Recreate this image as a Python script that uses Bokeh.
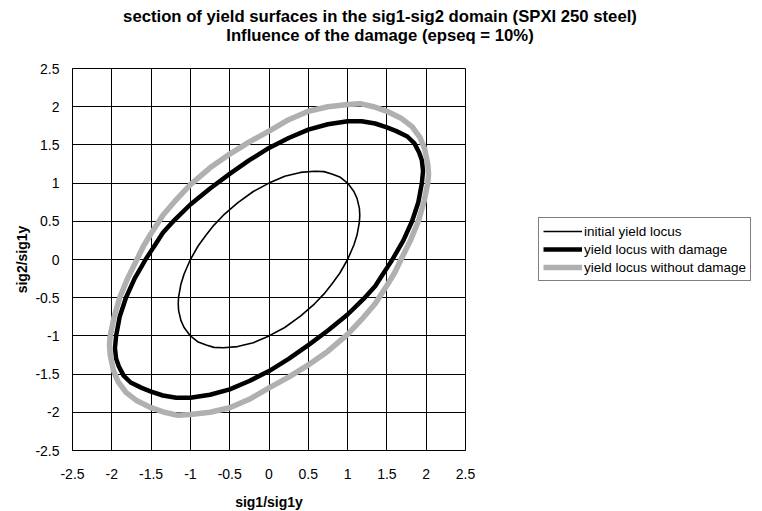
from bokeh.plotting import figure
from bokeh.models import Legend, LegendItem, FixedTicker, Div
from bokeh.layouts import column
from bokeh.embed import file_html
from bokeh.resources import INLINE

# ---------------- data ----------------
title_line1 = "section of yield surfaces in the sig1-sig2 domain (SPXI 250 steel)"
title_line2 = "Influence of the damage (epseq = 10%)"
x_axis_label = "sig1/sig1y"
y_axis_label = "sig2/sig1y"

tick_values = [-2.5, -2.0, -1.5, -1.0, -0.5, 0.0, 0.5, 1.0, 1.5, 2.0, 2.5]
tick_labels = ["-2.5", "-2", "-1.5", "-1", "-0.5", "0", "0.5", "1", "1.5", "2", "2.5"]

series_names = ["initial yield locus", "yield locus with damage", "yield locus without damage"]

initial_x = [1.00, 1.08, 1.12, 1.15, 1.155, 1.15, 1.12, 1.08, 1.00, 0.90, 0.80, 0.70, 0.58,
             0.40, 0.20, 0.00, -0.20, -0.40, -0.58, -0.70, -0.80, -0.90, -1.00, -1.08, -1.12,
             -1.15, -1.155, -1.15, -1.12, -1.08, -1.00, -0.90, -0.80, -0.70, -0.58, -0.40,
             -0.20, 0.00, 0.20, 0.40, 0.58, 0.70, 0.80, 0.90, 1.00]
initial_y = [0.00, 0.19, 0.32, 0.49, 0.58, 0.67, 0.80, 0.89, 1.00, 1.08, 1.12, 1.15, 1.155,
             1.14, 1.09, 1.00, 0.89, 0.74, 0.58, 0.45, 0.32, 0.18, 0.00, -0.19, -0.32,
             -0.49, -0.58, -0.67, -0.80, -0.89, -1.00, -1.08, -1.12, -1.15, -1.155, -1.14,
             -1.09, -1.00, -0.89, -0.74, -0.58, -0.45, -0.32, -0.18, 0.00]

damage_x = [1.57, 1.71, 1.82, 1.90, 1.945, 1.96, 1.945, 1.91, 1.85, 1.76, 1.62, 1.50, 1.35,
            1.18, 1.00, 0.75, 0.50, 0.25, 0.00, -0.25, -0.50, -0.75, -1.00, -1.20, -1.35,
            -1.45, -1.52, -1.57, -1.71, -1.82, -1.90, -1.945, -1.96, -1.945, -1.91, -1.85,
            -1.76, -1.62, -1.50, -1.35, -1.18, -1.00, -0.75, -0.50, -0.25, 0.00, 0.25, 0.50,
            0.75, 1.00, 1.20, 1.35, 1.45, 1.52, 1.57]
damage_y = [0.00, 0.25, 0.50, 0.75, 1.00, 1.16, 1.30, 1.40, 1.52, 1.61, 1.68, 1.73, 1.78,
            1.81, 1.81, 1.77, 1.70, 1.59, 1.46, 1.30, 1.12, 0.93, 0.72, 0.52, 0.35,
            0.19, 0.08, 0.00, -0.25, -0.50, -0.75, -1.00, -1.16, -1.30, -1.40, -1.52,
            -1.61, -1.68, -1.73, -1.78, -1.81, -1.81, -1.77, -1.70, -1.59, -1.46, -1.30, -1.12,
            -0.93, -0.72, -0.52, -0.35, -0.19, -0.08, 0.00]

nodamage_x = [1.68, 1.80, 1.90, 1.97, 2.02, 2.03, 2.02, 1.98, 1.92, 1.82, 1.68, 1.50, 1.33,
              1.16, 1.00, 0.75, 0.50, 0.25, 0.00, -0.25, -0.50, -0.75, -1.00, -1.20, -1.35,
              -1.50, -1.60, -1.68, -1.80, -1.90, -1.97, -2.02, -2.03, -2.02, -1.98, -1.92,
              -1.82, -1.68, -1.50, -1.33, -1.16, -1.00, -0.75, -0.50, -0.25, 0.00, 0.25, 0.50,
              0.75, 1.00, 1.20, 1.35, 1.50, 1.60, 1.68]
nodamage_y = [0.00, 0.25, 0.50, 0.75, 1.00, 1.12, 1.25, 1.45, 1.60, 1.74, 1.85, 1.94, 2.00,
              2.04, 2.03, 2.00, 1.94, 1.83, 1.68, 1.54, 1.38, 1.20, 0.98, 0.76, 0.58,
              0.34, 0.17, 0.00, -0.25, -0.50, -0.75, -1.00, -1.12, -1.25, -1.45, -1.60,
              -1.74, -1.85, -1.94, -2.00, -2.04, -2.03, -2.00, -1.94, -1.83, -1.68, -1.54, -1.38,
              -1.20, -0.98, -0.76, -0.58, -0.34, -0.17, 0.00]

# ---------------- layout ----------------
FONT = "Liberation Sans"
TITLE_H = 48

title_div = Div(
    text=('<div style="margin-top:7px;margin-left:16px;width:728px;text-align:center;'
          "font-family:'Liberation Sans',Arial,sans-serif;font-weight:bold;"
          'font-size:16.7px;line-height:19px;color:#000;white-space:nowrap;">'
          + title_line1 + "<br>" + title_line2 + "</div>"),
    width=746, height=TITLE_H, margin=0)

p = figure(frame_width=393, frame_height=382,
           x_range=(-2.5, 2.5), y_range=(-2.5, 2.5),
           output_backend="svg", toolbar_location=None,
           min_border_left=72, min_border_right=289,
           min_border_top=68 - TITLE_H, min_border_bottom=57, margin=0)
p.title.text = ""
p.background_fill_color = "white"
p.border_fill_color = "white"
p.outline_line_color = "black"
p.outline_line_width = 1

for ax in (p.xaxis[0], p.yaxis[0]):
    ax.ticker = FixedTicker(ticks=tick_values)
    ax.major_label_overrides = {v: s for v, s in zip(tick_values, tick_labels)}
    ax.major_tick_line_color = None
    ax.minor_tick_line_color = None
    ax.axis_line_color = "black"
    ax.major_label_text_font = FONT
    ax.major_label_text_font_size = "14px"
    ax.major_label_text_color = "black"
    ax.axis_label_text_font = FONT
    ax.axis_label_text_font_size = "14px"
    ax.axis_label_text_font_style = "bold"
    ax.axis_label_text_color = "black"

p.xaxis.axis_label = x_axis_label
p.yaxis.axis_label = y_axis_label
p.xaxis.major_label_standoff = 12
p.xaxis.axis_label_standoff = 12
p.yaxis.major_label_standoff = 7
p.yaxis.axis_label_standoff = 2

for g in (p.xgrid[0], p.ygrid[0]):
    g.ticker = FixedTicker(ticks=tick_values)
    g.grid_line_color = "black"
    g.grid_line_width = 1
    g.grid_line_alpha = 1.0

r_init = p.line(initial_x, initial_y, line_color="black", line_width=1.6, line_join="round")
r_dmg = p.line(damage_x, damage_y, line_color="black", line_width=4.5, line_join="round")
r_nodmg = p.line(nodamage_x, nodamage_y, line_color="#b0b0b0", line_width=5.5, line_join="round")

legend = Legend(items=[LegendItem(label=series_names[0], renderers=[r_init]),
                       LegendItem(label=series_names[1], renderers=[r_dmg]),
                       LegendItem(label=series_names[2], renderers=[r_nodmg])],
                location=(73, 169))
legend.border_line_color = "black"
legend.border_line_width = 1
legend.background_fill_color = "white"
legend.background_fill_alpha = 1.0
legend.padding = 4
legend.spacing = 0
legend.margin = 0
legend.label_height = 18
legend.glyph_height = 18
legend.glyph_width = 39
legend.label_standoff = 2
legend.label_text_font = FONT
legend.label_text_font_size = "13.5px"
legend.label_text_color = "black"
p.add_layout(legend, "right")

layout = column(title_div, p, spacing=0)

with open("out.html", "w") as f:
    f.write(file_html(layout, INLINE))
